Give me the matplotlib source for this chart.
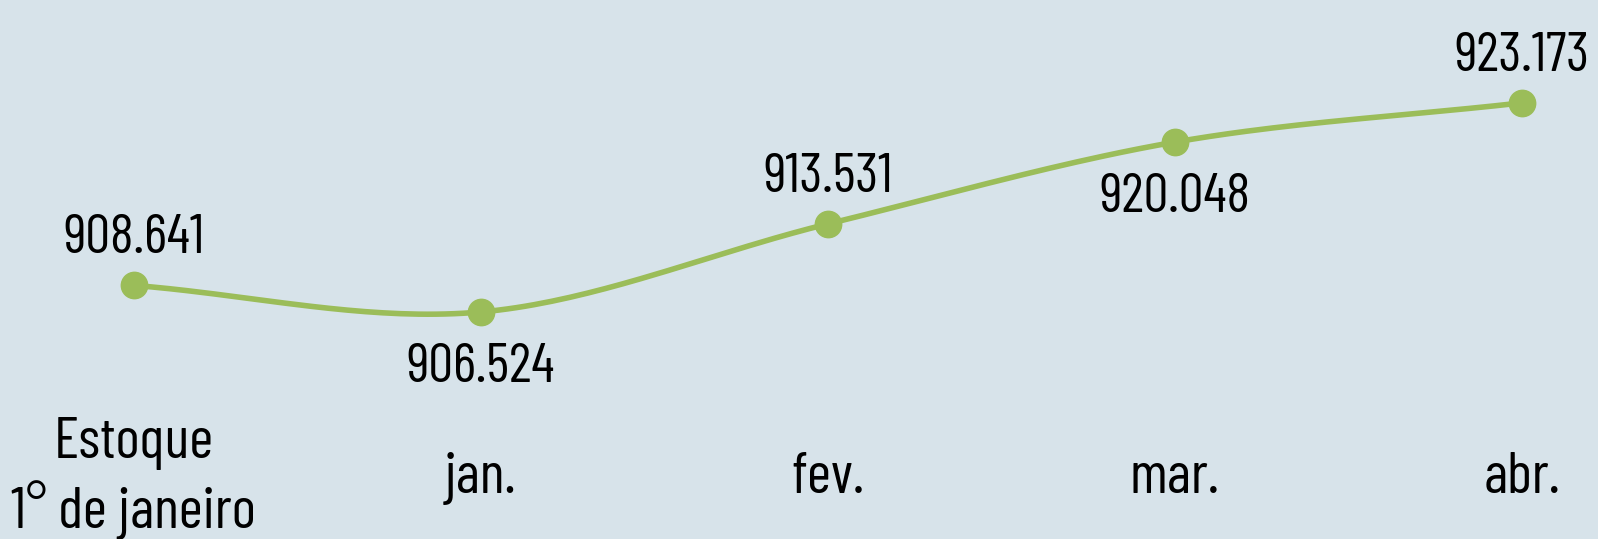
import matplotlib
matplotlib.use("Agg")
import matplotlib.pyplot as plt
import matplotlib.transforms as mtransforms
import numpy as np

# Data
categories = ["Estoque\n1° de janeiro", "jan.", "fev.", "mar.", "abr."]
values = [908641, 906524, 913531, 920048, 923173]
labels = ["908.641", "906.524", "913.531", "920.048", "923.173"]
label_above = [True, False, True, False, True]

bg = "#d7e3ea"
green = "#9bbd59"
font = "Barlow Condensed"


def smooth(x, y, n=40):
    # Catmull-Rom style smoothing (like Excel's smoothed line)
    px = np.concatenate([[2 * x[0] - x[1]], x, [2 * x[-1] - x[-2]]])
    py = np.concatenate([[2 * y[0] - y[1]], y, [2 * y[-1] - y[-2]]])
    xs, ys = [], []
    t = np.linspace(0, 1, n)
    for i in range(1, len(px) - 2):
        p0, p1, p2, p3 = (np.array([px[j], py[j]]) for j in range(i - 1, i + 3))
        c1 = p1 + (p2 - p0) / 6
        c2 = p2 - (p3 - p1) / 6
        pts = ((1 - t) ** 3)[:, None] * p1 + (3 * (1 - t) ** 2 * t)[:, None] * c1 \
            + (3 * (1 - t) * t ** 2)[:, None] * c2 + (t ** 3)[:, None] * p2
        xs.extend(pts[:, 0])
        ys.extend(pts[:, 1])
    return np.array(xs), np.array(ys)


fig = plt.figure(figsize=(15.98, 5.39), dpi=100, facecolor=bg)
ax = fig.add_axes([0, 0, 1, 1])
ax.set_facecolor(bg)

x = np.arange(len(values), dtype=float)
y = np.array(values, dtype=float)
sx, sy = smooth(x, y)
ax.plot(sx, sy, color=green, lw=4, solid_capstyle="round", zorder=2)
ax.plot(x, y, "o", color=green, ms=19, mec=green, zorder=3)

for xi, yi, lab, up in zip(x, y, labels, label_above):
    ax.annotate(lab, (xi, yi), xytext=(0, 46 if up else -56), textcoords="offset pixels",
                ha="center", va="center", fontsize=40, family=font, color="black")

trans = mtransforms.blended_transform_factory(ax.transData, ax.transAxes)
for xi, cat in zip(x, categories):
    ax.text(xi, 0.112, cat, transform=trans, ha="center", va="center",
            fontsize=42, family=font, color="black", linespacing=1.2)

ax.set_xlim(-0.385, 4.22)
ax.set_ylim(888448, 931366)
ax.axis("off")

fig.savefig("out.png", dpi=100, facecolor=bg)
